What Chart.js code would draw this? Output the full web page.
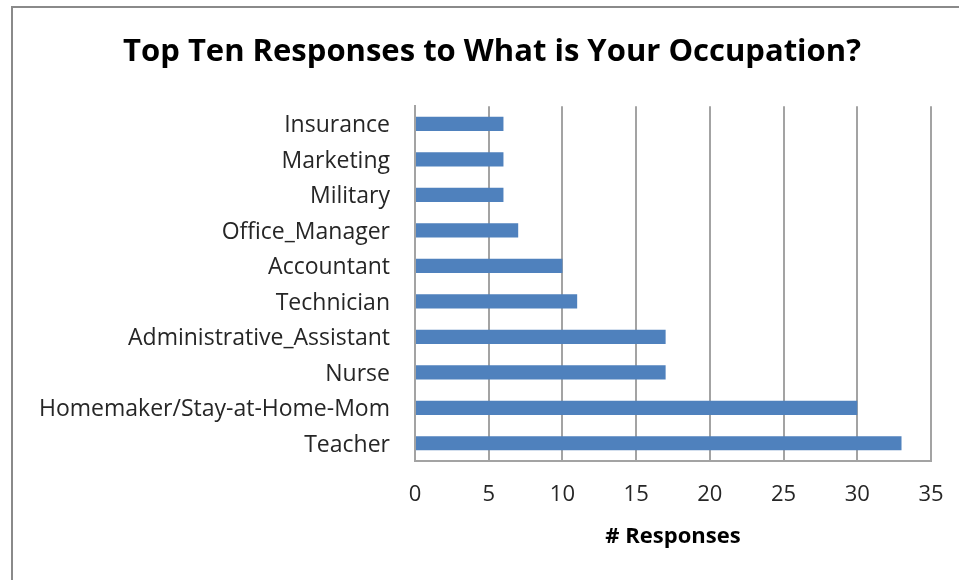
<!DOCTYPE html>
<html>
<head>
<meta charset="utf-8">
<script src="https://cdn.jsdelivr.net/npm/chart.js@4.4.1/dist/chart.umd.min.js"></script>
<style>
  html, body { margin: 0; padding: 0; background: #ffffff; overflow: hidden; }
  body { width: 959px; height: 580px; position: relative; }
  #frame {
    position: absolute; left: 11px; top: 6px; width: 1000px; height: 700px;
    border-left: 2px solid #8a8a8a; border-top: 2px solid #8a8a8a;
    box-sizing: border-box; pointer-events: none;
  }
  #wrap { position: absolute; left: 12px; top: 7px; width: 960px; height: 573px; }
</style>
</head>
<body>
<div id="wrap"><canvas id="chart"></canvas></div>
<div id="frame"></div>
<script>
// Occupations, listed top to bottom
const occupations = [
  'Insurance',
  'Marketing',
  'Military',
  'Office_Manager',
  'Accountant',
  'Technician',
  'Administrative_Assistant',
  'Nurse',
  'Homemaker/Stay-at-Home-Mom',
  'Teacher'
];
// Number of responses per occupation
const responses = [6, 6, 6, 7, 10, 11, 17, 17, 30, 33];
// Value axis ticks
const xTicks = [0, 5, 10, 15, 20, 25, 30, 35];

const textColor = '#262626';
const gridColor = '#a3a3a3';
const barColor = '#4f81bd';
const FONT = '"Open Sans", Lato, sans-serif';

new Chart(document.getElementById('chart'), {
  type: 'bar',
  data: {
    labels: occupations,
    datasets: [{
      label: '# Responses',
      data: responses,
      backgroundColor: barColor,
      borderWidth: 0,
      barPercentage: 0.4,
      categoryPercentage: 1.0
    }]
  },
  options: {
    indexAxis: 'y',
    responsive: true,
    maintainAspectRatio: false,
    animation: false,
    devicePixelRatio: 1,
    layout: { padding: 0 },
    plugins: {
      legend: { display: false },
      tooltip: { enabled: false },
      title: {
        display: true,
        text: 'Top Ten Responses to What is Your Occupation?',
        color: '#000000',
        font: { family: FONT, size: 31, weight: 'bold' },
        padding: { top: 27, bottom: 35 }
      }
    },
    scales: {
      x: {
        type: 'linear',
        min: xTicks[0],
        max: xTicks[xTicks.length - 1],
        afterBuildTicks: (scale) => { scale.ticks = xTicks.map(v => ({ value: v })); },
        afterFit: (scale) => { scale.height = 119; },
        grid: { color: gridColor, lineWidth: 2, drawTicks: false },
        border: { display: true, color: gridColor, width: 2 },
        ticks: {
          color: textColor,
          font: { family: FONT, size: 22 },
          padding: 21,
          maxRotation: 0
        },
        title: {
          display: true,
          text: '# Responses',
          color: '#000000',
          font: { family: FONT, size: 22, weight: 'bold' },
          padding: { top: 0, bottom: 30 }
        }
      },
      y: {
        afterFit: (scale) => { scale.width = 403; },
        grid: { display: false, drawTicks: false },
        border: { display: true, color: gridColor, width: 2 },
        ticks: {
          color: textColor,
          font: { family: FONT, size: 23 },
          padding: 25,
          labelOffset: 2,
          autoSkip: false
        }
      },
      // empty strip on the right so the plot ends short of the frame edge
      yRight: {
        type: 'category',
        position: 'right',
        afterFit: (scale) => { scale.width = 41; },
        grid: { display: false, drawTicks: false },
        border: { display: false },
        ticks: { display: false }
      }
    }
  }
});
</script>
</body>
</html>
